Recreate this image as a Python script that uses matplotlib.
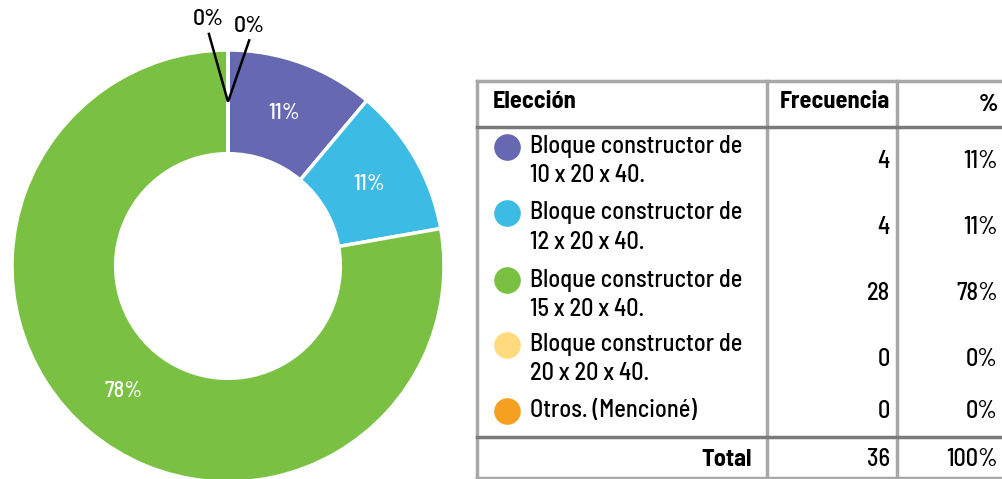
import matplotlib
matplotlib.use("Agg")
import matplotlib.pyplot as plt
import numpy as np

plt.rcParams['font.family'] = ["Barlow Semi Condensed", "DejaVu Sans"]

categories = ["Bloque constructor de\n10 x 20 x 40.",
              "Bloque constructor de\n12 x 20 x 40.",
              "Bloque constructor de\n15 x 20 x 40.",
              "Bloque constructor de\n20 x 20 x 40.",
              "Otros. (Mencioné)"]
frecuencia = [4, 4, 28, 0, 0]
porcentaje = ["11%", "11%", "78%", "0%", "0%"]
total_label = "Total"
total_freq = "36"
total_pct = "100%"
colors = ["#6668B2", "#3CBCE5", "#7AC143", "#FFDB7E", "#F6A021"]

W, H = 1003, 479
fig = plt.figure(figsize=(W / 100, H / 100), dpi=100)

# ---- donut ----
cx, cy, R = 228, 266, 216
axp = fig.add_axes([(cx - R) / W, (H - cy - R) / H, 2 * R / W, 2 * R / H])
wedges, _ = axp.pie(frecuencia, colors=colors, startangle=90, counterclock=False,
                    radius=1, wedgeprops=dict(width=0.48, edgecolor="white", linewidth=2.5))
axp.set_xlim(-1, 1)
axp.set_ylim(-1, 1)
axp.set_axis_off()

mid_r = 1 - 0.48 / 2
zero_offsets = [(-0.09, 0.32), (0.10, 0.29)]
zi = 0
for w, v, p in zip(wedges, frecuencia, porcentaje):
    ang = np.deg2rad((w.theta1 + w.theta2) / 2)
    if v > 0:
        axp.text(0.755 * np.cos(ang), 0.755 * np.sin(ang), p, color="white",
                 fontsize=16, fontweight="medium", ha="center", va="center")
    else:
        x0, y0 = mid_r * np.cos(ang), mid_r * np.sin(ang)
        dx, dy = zero_offsets[zi]
        zi += 1
        axp.plot([x0, x0 + dx], [y0, y0 + dy], color="black", lw=1.8, clip_on=False,
                 solid_capstyle="butt")
        axp.text(x0 + dx, y0 + dy + 0.015, p, color="black", fontsize=17,
                 fontweight="medium", ha="center", va="bottom", clip_on=False)

# ---- table ----
axt = fig.add_axes([0, 0, 1, 1])
axt.set_xlim(0, W)
axt.set_ylim(H, 0)
axt.set_axis_off()
axt.patch.set_alpha(0)

x_left, x_c1, x_c2, x_right = 477, 767, 897, 1010
y_top, y_head, y_tot, y_bot = 81, 127, 437, 479
light = "#A8A8A8"
dark = "#7A7A7A"
axt.plot([x_left, x_right], [y_top, y_top], color=light, lw=2.5)
axt.plot([x_left, x_left], [y_top, y_bot], color=light, lw=2.5)
axt.plot([x_c1, x_c1], [y_top, y_bot], color=light, lw=2.5)
axt.plot([x_c2, x_c2], [y_top, y_bot], color=light, lw=2.5)
axt.plot([x_left, x_right], [y_bot - 1, y_bot - 1], color=light, lw=2.5)
axt.plot([x_left, x_right], [y_head, y_head], color=dark, lw=2.5)
axt.plot([x_left, x_right], [y_tot, y_tot], color=dark, lw=2.5)

fs = 17.5
axt.text(493, 102, "Elección", fontsize=fs, fontweight="bold", ha="left", va="center")
axt.text(890, 102, "Frecuencia", fontsize=fs, fontweight="bold", ha="right", va="center")
axt.text(998, 105, "%", fontsize=fs, fontweight="bold", ha="right", va="center")

row_y = [161, 227, 294, 359, 411]
for yy, cat, c, f, p in zip(row_y, categories, colors, frecuencia, porcentaje):
    lines = cat.split("\n")
    two = len(lines) > 1
    ytxt = yy - 14 if two else yy
    axt.scatter([507], [ytxt], s=330, color=c, zorder=3)
    for k, ln in enumerate(lines):
        axt.text(530, ytxt + k * 29, ln, fontsize=fs, fontweight="medium",
                 ha="left", va="center")
    axt.text(890, yy, str(f), fontsize=fs, fontweight="medium", ha="right", va="center")
    axt.text(998, yy, p, fontsize=fs, fontweight="medium", ha="right", va="center")

axt.text(752, 460, total_label, fontsize=fs, fontweight="bold", ha="right", va="center")
axt.text(890, 460, total_freq, fontsize=fs, fontweight="medium", ha="right", va="center")
axt.text(998, 460, total_pct, fontsize=fs, fontweight="medium", ha="right", va="center")

fig.savefig("out.png", dpi=100)
